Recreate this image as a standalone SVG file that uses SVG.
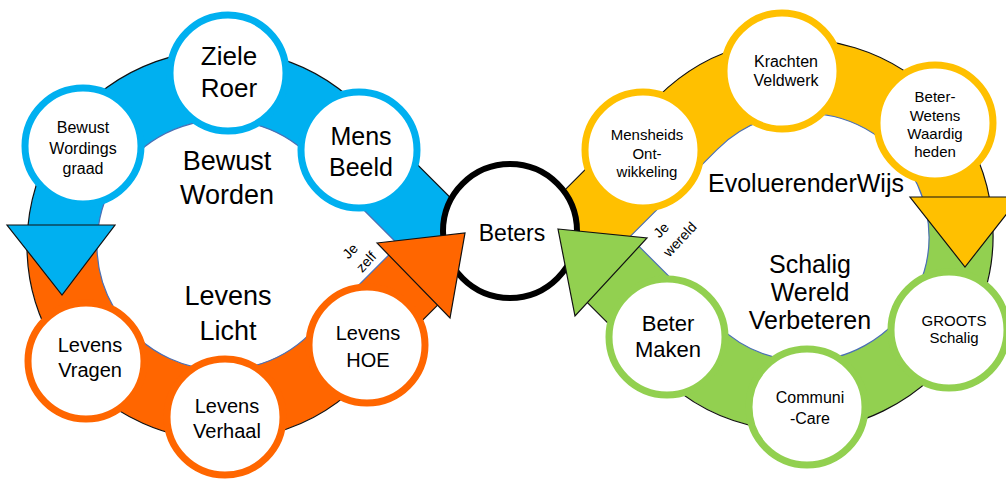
<svg xmlns="http://www.w3.org/2000/svg" width="1006" height="480" viewBox="0 0 1006 480">
  <style>
    text { font-family: "Liberation Sans", Arial, sans-serif; fill: #000; text-anchor: middle; }
    .edge-out { fill: none; stroke: #111; stroke-width: 1.2; }
    .edge-in { fill: none; stroke: #4a6fb5; stroke-width: 1.2; }
    .head { stroke: #111; stroke-width: 1.2; stroke-linejoin: miter; }
    .node { fill: #fff; stroke-width: 7; }
    .blue { fill: #00b0f0; }
    .orange { fill: #ff6600; }
    .yellow { fill: #ffc000; }
    .green { fill: #92d050; }
    .n-blue { stroke: #00b0f0; }
    .n-orange { stroke: #ff6600; }
    .n-yellow { stroke: #ffc000; }
    .n-green { stroke: #92d050; }
    .big { font-size: 25px; }
    .mid { font-size: 20px; }
    .small { font-size: 15px; }
    .tiny { font-size: 14px; }
  </style>

  <!-- connectors: the two looping arrow bands -->
  <g id="connectors">
    <!-- left loop, lower band (orange) -->
    <g id="band-orange">
      <path class="orange" d="M 27.26,235 A 195 195 0 0 0 359.89,382.89 L 439.89,302.89 L 390.39,253.39 L 310.39,333.39 A 125 125 0 0 1 97.4,235 Z"/>
      <path class="edge-out" d="M 27.26,235 A 195 195 0 0 0 359.89,382.89 L 439.89,302.89"/>
      <path class="edge-in" d="M 390.39,253.39 L 310.39,333.39 A 125 125 0 0 1 97.4,235"/>
    </g>
    <!-- left loop, upper band (blue) -->
    <g id="band-blue">
      <path class="blue" d="M 490,237.22 L 359.89,107.11 A 195 195 0 0 0 27.83,227 L 98.3,227 A 125 125 0 0 1 310.39,156.61 L 397,243.22 Z"/>
      <path class="edge-out" d="M 490,237.22 L 359.89,107.11 A 195 195 0 0 0 27.83,227"/>
      <path class="edge-in" d="M 98.3,227 A 125 125 0 0 1 310.39,156.61 L 397,243.22"/>
      <polygon class="blue head" points="7,225 115,225 62,295"/>
    </g>
    <!-- right loop, lower band (green) -->
    <g id="band-green">
      <path class="green" d="M 991.4,210 A 196 196 0 0 1 658.41,373.59 L 583.41,298.59 L 637.32,244.68 L 717.32,324.68 A 124 124 0 0 0 926,210 Z"/>
      <path class="edge-out" d="M 991.4,210 A 196 196 0 0 1 658.41,373.59 L 583.41,298.59"/>
      <path class="edge-in" d="M 637.32,244.68 L 717.32,324.68 A 124 124 0 0 0 926,210"/>
    </g>
    <!-- right loop, upper band (yellow) -->
    <g id="band-yellow">
      <path class="yellow" d="M 525,229.82 L 658.41,96.41 A 196 196 0 0 1 989.67,199 L 923.03,199 A 124 124 0 0 0 717.32,149.32 L 628,238.64 Z"/>
      <path class="edge-out" d="M 525,229.82 L 658.41,96.41 A 196 196 0 0 1 989.67,199"/>
      <path class="edge-in" d="M 923.03,199 A 124 124 0 0 0 717.32,149.32 L 628,238.64"/>
      <polygon class="yellow head" points="910,197 1020,197 965,267"/>
    </g>
  </g>

  <!-- centre hub -->
  <g id="beters">
    <circle cx="510" cy="231" r="67" fill="#fff" stroke="#000" stroke-width="6"/>
    <text x="512" y="241" style="font-size:23px">Beters</text>
  </g>

  <!-- arrowheads entering the hub -->
  <g id="heads-into-hub">
    <polygon class="orange head" points="377,243 465,233 450,318"/>
    <polygon class="green head" points="558,229 647,238 575,316"/>
  </g>

  <!-- band labels along the crossing -->
  <g id="label-je-zelf" transform="translate(350,251) rotate(-47)">
    <text class="tiny" x="0" y="5">Je</text>
    <text class="tiny" x="3" y="24">zelf</text>
  </g>
  <g id="label-je-wereld" transform="translate(661,230) rotate(-47)">
    <text class="tiny" x="0" y="5">Je</text>
    <text class="tiny" x="6" y="25">wereld</text>
  </g>

  <!-- loop titles -->
  <g id="title-bewust-worden">
    <text class="big" x="227" y="170" style="font-size:27px">Bewust</text>
    <text class="big" x="227" y="204" style="font-size:27px">Worden</text>
  </g>
  <g id="title-levens-licht">
    <text class="big" x="228" y="305" style="font-size:27px">Levens</text>
    <text class="big" x="228" y="340" style="font-size:27px">Licht</text>
  </g>
  <g id="title-evoluerenderwijs">
    <text class="big" x="806" y="192">EvoluerenderWijs</text>
  </g>
  <g id="title-schalig">
    <text class="big" x="810" y="273">Schalig</text>
    <text class="big" x="810" y="301">Wereld</text>
    <text class="big" x="810" y="329">Verbeteren</text>
  </g>

  <!-- left loop nodes -->
  <g id="node-bewust-wordingsgraad">
    <circle class="node n-blue" cx="83" cy="146" r="58"/>
    <text class="small" x="83" y="133" style="font-size:16px">Bewust</text>
    <text class="small" x="83" y="154" style="font-size:16px">Wordings</text>
    <text class="small" x="83" y="174" style="font-size:16px">graad</text>
  </g>
  <g id="node-ziele-roer">
    <circle class="node n-blue" cx="228" cy="73" r="58"/>
    <text class="big" x="229" y="65" style="font-size:26px">Ziele</text>
    <text class="big" x="229" y="97" style="font-size:26px">Roer</text>
  </g>
  <g id="node-mens-beeld">
    <circle class="node n-blue" cx="359" cy="150" r="58"/>
    <text class="big" x="361" y="145">Mens</text>
    <text class="big" x="361" y="176">Beeld</text>
  </g>
  <g id="node-levens-vragen">
    <circle class="node n-orange" cx="86" cy="361" r="58"/>
    <text class="mid" x="90" y="352">Levens</text>
    <text class="mid" x="90" y="377">Vragen</text>
  </g>
  <g id="node-levens-verhaal">
    <circle class="node n-orange" cx="225" cy="417" r="58"/>
    <text class="mid" x="227" y="413">Levens</text>
    <text class="mid" x="227" y="438">Verhaal</text>
  </g>
  <g id="node-levens-hoe">
    <circle class="node n-orange" cx="367" cy="345" r="58"/>
    <text class="mid" x="368" y="340">Levens</text>
    <text class="mid" x="368" y="367">HOE</text>
  </g>

  <!-- right loop nodes -->
  <g id="node-mensheids-ontwikkeling">
    <circle class="node n-yellow" cx="643" cy="150" r="58"/>
    <text class="small" x="647" y="140">Mensheids</text>
    <text class="small" x="647" y="159">Ont-</text>
    <text class="small" x="647" y="177">wikkeling</text>
  </g>
  <g id="node-krachten-veldwerk">
    <circle class="node n-yellow" cx="782" cy="71" r="58"/>
    <text class="small" x="786" y="67" style="font-size:16px">Krachten</text>
    <text class="small" x="786" y="86" style="font-size:16px">Veldwerk</text>
  </g>
  <g id="node-beter-wetens-waardigheden">
    <circle class="node n-yellow" cx="935" cy="123" r="58"/>
    <text class="small" x="935" y="102">Beter-</text>
    <text class="small" x="935" y="121">Wetens</text>
    <text class="small" x="935" y="139">Waardig</text>
    <text class="small" x="935" y="157">heden</text>
  </g>
  <g id="node-beter-maken">
    <circle class="node n-green" cx="667" cy="337" r="58"/>
    <text class="mid" x="668" y="331" style="font-size:22px">Beter</text>
    <text class="mid" x="668" y="357" style="font-size:22px">Maken</text>
  </g>
  <g id="node-communi-care">
    <circle class="node n-green" cx="807" cy="407" r="58"/>
    <text class="small" x="810" y="403" style="font-size:16px">Communi</text>
    <text class="small" x="810" y="424" style="font-size:16px">-Care</text>
  </g>
  <g id="node-groots-schalig">
    <circle class="node n-green" cx="949" cy="330" r="58"/>
    <text class="small" x="954" y="326">GROOTS</text>
    <text class="small" x="954" y="343">Schalig</text>
  </g>
</svg>
